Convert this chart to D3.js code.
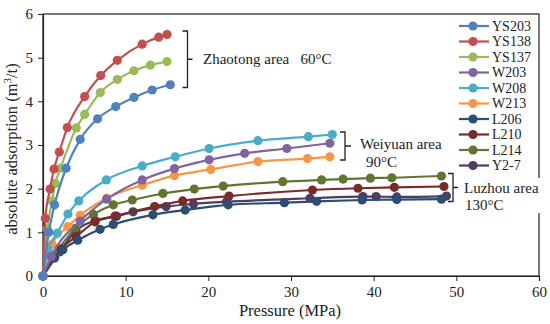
<!DOCTYPE html>
<html>
<head>
<meta charset="utf-8">
<script src="https://cdn.jsdelivr.net/npm/d3@7/dist/d3.min.js"></script>
<style>
  body { margin: 0; background: #fff; }
  text { font-family: "Liberation Serif", "Times New Roman", serif; fill: #222; }
</style>
</head>
<body>
<svg id="chart" width="550" height="324"></svg>
<script>
var seriesNames = ["YS203", "YS138", "YS137", "W203", "W208", "W213", "L206", "L210", "L214", "Y2-7"];
var seriesColors = ["#4F81BD", "#C0504D", "#9BBB59", "#8064A2", "#4BACC6", "#F79646", "#2C4D75", "#772C2A", "#5F7530", "#4D3B62"];

// [pressure MPa, absolute adsorption m3/t]
var ys203 = [[0, 0], [0.7, 1.0], [1.4, 1.63], [2.8, 2.47], [4.5, 3.13], [6.6, 3.6], [8.8, 3.88], [11, 4.09], [13.2, 4.26], [15.4, 4.38]];
var ys138 = [[0, 0], [0.28, 1.32], [0.85, 1.99], [1.33, 2.45], [1.97, 2.84], [2.94, 3.4], [5.04, 4.11], [6.98, 4.59], [8.99, 4.94], [12.0, 5.31], [14.0, 5.47], [15.0, 5.53]];
var ys137 = [[0, 0], [0.52, 1.08], [1.09, 1.72], [1.49, 2.12], [2.12, 2.47], [4.03, 3.39], [5.04, 3.7], [6.93, 4.2], [8.99, 4.5], [11.0, 4.7], [13.0, 4.83], [15.0, 4.91]];
var w203 = [[0, 0], [1.0, 0.45], [4.5, 1.26], [7.7, 1.76], [12.0, 2.2], [15.9, 2.46], [20.1, 2.66], [24.4, 2.81], [29.5, 2.92], [34.7, 3.04]];
var w208 = [[0, 0], [0.6, 0.6], [1.73, 0.98], [3.02, 1.42], [4.32, 1.72], [7.66, 2.2], [12.0, 2.52], [16.0, 2.73], [20.1, 2.92], [26.0, 3.1], [32.1, 3.19], [35.0, 3.24]];
var w213 = [[0, 0], [1.1, 0.72], [3.0, 1.13], [4.5, 1.39], [7.7, 1.78], [12.0, 2.08], [15.9, 2.3], [20.3, 2.44], [26.0, 2.62], [32.0, 2.69], [34.7, 2.73]];
var l206 = [[0, 0], [1.4, 0.41], [2.4, 0.6], [4.2, 0.82], [6.9, 1.07], [8.5, 1.18], [13.3, 1.4], [17.2, 1.51], [22.4, 1.63], [29.2, 1.68], [33.1, 1.71], [38.6, 1.74], [42.8, 1.75], [48.2, 1.76]];
var l210 = [[0, 0], [2.2, 0.62], [4.0, 0.9], [6.3, 1.24], [8.7, 1.37], [13.5, 1.59], [16.9, 1.72], [22.5, 1.83], [32.6, 1.97], [38.1, 2.01], [42.5, 2.03], [48.5, 2.05]];
var l214 = [[0, 0], [1.5, 0.5], [3.9, 1.09], [6.1, 1.41], [8.5, 1.63], [10.8, 1.74], [14.5, 1.89], [18.3, 1.99], [21.8, 2.06], [29.0, 2.16], [33.7, 2.2], [36.3, 2.22], [39.6, 2.24], [42.2, 2.25], [48.2, 2.29]];
var y27 = [[0, 0], [2.0, 0.55], [4.0, 1.04], [6.3, 1.27], [8.9, 1.37], [10.9, 1.47], [14.9, 1.59], [18.2, 1.65], [22.2, 1.7], [32.3, 1.78], [38.7, 1.82], [40.3, 1.82], [42.8, 1.81], [48.8, 1.83]];

var xTicks = [0, 10, 20, 30, 40, 50, 60];
var yTicks = [0, 1, 2, 3, 4, 5, 6];

var seriesData = [ys203, ys138, ys137, w203, w208, w213, l206, l210, l214, y27];

var svg = d3.select("#chart");
var plotLeft = 43, plotRight = 539, plotTop = 14, plotBottom = 276;

var x = d3.scaleLinear().domain([0, 60]).range([plotLeft, plotRight]);
var y = d3.scaleLinear().domain([0, 6]).range([plotBottom, plotTop]);

// frame
svg.append("rect")
  .attr("x", plotLeft).attr("y", plotTop)
  .attr("width", plotRight - plotLeft).attr("height", plotBottom - plotTop)
  .attr("fill", "none").attr("stroke", "#222").attr("stroke-width", 1.2);

var xAxis = svg.append("g")
  .attr("transform", "translate(0," + plotBottom + ")")
  .call(d3.axisBottom(x).tickValues(xTicks).tickFormat(d3.format("d")).tickSize(5).tickPadding(5));
var yAxis = svg.append("g")
  .attr("transform", "translate(" + plotLeft + ",0)")
  .call(d3.axisLeft(y).tickValues(yTicks).tickFormat(d3.format("d")).tickSize(5).tickPadding(5));

[xAxis, yAxis].forEach(function (g) {
  g.attr("font-family", "Liberation Serif, Times New Roman, serif").attr("font-size", 15);
  g.select(".domain").attr("stroke", "#222").attr("stroke-width", 1.2);
  g.selectAll(".tick line").attr("stroke", "#222");
  g.selectAll(".tick text").attr("fill", "#222");
});

svg.append("text")
  .attr("x", 290).attr("y", 316)
  .attr("text-anchor", "middle").attr("font-size", 16.5)
  .text("Pressure (MPa)");

var yTitle = svg.append("text")
  .attr("transform", "translate(17," + ((plotTop + plotBottom) / 2 + 4) + ") rotate(-90)")
  .attr("text-anchor", "middle").attr("font-size", 16.5);
yTitle.append("tspan").text("absolute adsorption (m");
yTitle.append("tspan").attr("font-size", 11).attr("dy", -6).text("3");
yTitle.append("tspan").attr("dy", 6).text("/t)");

var line = d3.line()
  .x(function (d) { return x(d[0]); })
  .y(function (d) { return y(d[1]); })
  .curve(d3.curveMonotoneX);

// draw in reverse so the Zhaotong series sit on top
var order = d3.range(seriesData.length).reverse();
order.forEach(function (i) {
  var g = svg.append("g");
  g.append("path")
    .attr("d", line(seriesData[i]))
    .attr("fill", "none")
    .attr("stroke", seriesColors[i])
    .attr("stroke-width", 2.2);
  g.selectAll("circle")
    .data(seriesData[i])
    .enter().append("circle")
    .attr("cx", function (d) { return x(d[0]); })
    .attr("cy", function (d) { return y(d[1]); })
    .attr("r", 4.6)
    .attr("fill", seriesColors[i]);
});

// legend
var legend = svg.append("g");
seriesNames.forEach(function (name, i) {
  var ly = 26 + i * 15.5;
  legend.append("line")
    .attr("x1", 459).attr("x2", 489)
    .attr("y1", ly).attr("y2", ly)
    .attr("stroke", seriesColors[i]).attr("stroke-width", 2.2);
  legend.append("circle")
    .attr("cx", 473).attr("cy", ly).attr("r", 4.6)
    .attr("fill", seriesColors[i]);
  legend.append("text")
    .attr("x", 492).attr("y", ly + 4.8)
    .attr("font-size", 14)
    .text(name);
});

// area brackets
function bracket(bx, y1, y2, tickLen) {
  var p = d3.path();
  p.moveTo(bx - 5, y1); p.lineTo(bx, y1); p.lineTo(bx, y2); p.lineTo(bx - 5, y2);
  var mid = (y1 + y2) / 2;
  p.moveTo(bx, mid); p.lineTo(bx + tickLen, mid);
  svg.append("path").attr("d", p.toString())
    .attr("fill", "none").attr("stroke", "#222").attr("stroke-width", 1.3);
}

bracket(187.5, 31, 87.5, 5);
svg.append("text").attr("x", 203).attr("y", 64).attr("font-size", 15)
  .attr("xml:space", "preserve")
  .text("Zhaotong area   60\u00B0C");

bracket(345, 132, 160, 6);
svg.append("text").attr("x", 360).attr("y", 148.5).attr("font-size", 15).text("Weiyuan area");
svg.append("text").attr("x", 366).attr("y", 166.5).attr("font-size", 15).text("90\u00B0C");

bracket(453, 173.5, 201.5, 5);
svg.append("rect").attr("x", 463).attr("y", 178).attr("width", 87).attr("height", 35).attr("fill", "#fff");
svg.append("text").attr("x", 464).attr("y", 193).attr("font-size", 15).text("Luzhou area");
svg.append("text").attr("x", 465).attr("y", 210).attr("font-size", 15).text("130\u00B0C");
</script>
</body>
</html>
